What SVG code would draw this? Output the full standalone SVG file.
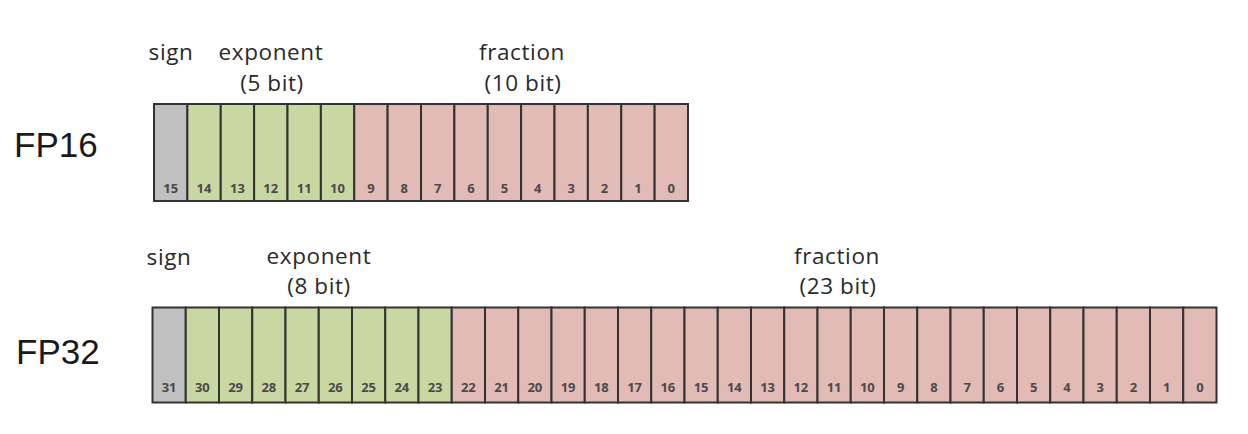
<svg xmlns="http://www.w3.org/2000/svg" width="1248" height="434" viewBox="0 0 1248 434">
<style>
.bg{fill:#ffffff}
.c{stroke:#333333;stroke-width:2}
.s{fill:#c0c0c0}
.e{fill:#c9d8a3}
.f{fill:#e2bab6}
.n{font-family:"Open Sans","Noto Sans",sans-serif;font-size:13px;font-weight:700;fill:#4a4a4a;text-anchor:middle}
.l{font-family:"Open Sans","Noto Sans",sans-serif;font-size:22.5px;fill:#2a2a2a;text-anchor:middle;letter-spacing:0.6px}
.t{font-family:"Liberation Sans",Arial,sans-serif;font-size:35px;fill:#1a1a1a}
</style>
<rect class="bg" x="0" y="0" width="1248" height="434"/>

<g id="fp16">
  <text class="t" x="14" y="157">FP16</text>
  <g id="fp16-labels">
    <text class="l" x="171" y="60">sign</text>
    <text class="l" x="271" y="60">exponent</text>
    <text class="l" x="272" y="91">(5 bit)</text>
    <text class="l" x="522" y="60">fraction</text>
    <text class="l" x="523" y="91">(10 bit)</text>
  </g>
  <g id="fp16-sign">
    <rect class="c s" x="154" y="104" width="33.375" height="97"/>
    <text class="n" x="170.69" y="193">15</text>
  </g>
  <g id="fp16-exponent">
    <rect class="c e" x="187.375" y="104" width="33.375" height="97"/>
    <rect class="c e" x="220.75" y="104" width="33.375" height="97"/>
    <rect class="c e" x="254.125" y="104" width="33.375" height="97"/>
    <rect class="c e" x="287.5" y="104" width="33.375" height="97"/>
    <rect class="c e" x="320.875" y="104" width="33.375" height="97"/>
    <text class="n" x="204.06" y="193">14</text>
    <text class="n" x="237.44" y="193">13</text>
    <text class="n" x="270.81" y="193">12</text>
    <text class="n" x="304.19" y="193">11</text>
    <text class="n" x="337.56" y="193">10</text>
  </g>
  <g id="fp16-fraction">
    <rect class="c f" x="354.25" y="104" width="33.375" height="97"/>
    <rect class="c f" x="387.625" y="104" width="33.375" height="97"/>
    <rect class="c f" x="421" y="104" width="33.375" height="97"/>
    <rect class="c f" x="454.375" y="104" width="33.375" height="97"/>
    <rect class="c f" x="487.75" y="104" width="33.375" height="97"/>
    <rect class="c f" x="521.125" y="104" width="33.375" height="97"/>
    <rect class="c f" x="554.5" y="104" width="33.375" height="97"/>
    <rect class="c f" x="587.875" y="104" width="33.375" height="97"/>
    <rect class="c f" x="621.25" y="104" width="33.375" height="97"/>
    <rect class="c f" x="654.625" y="104" width="33.375" height="97"/>
    <text class="n" x="370.94" y="193">9</text>
    <text class="n" x="404.31" y="193">8</text>
    <text class="n" x="437.69" y="193">7</text>
    <text class="n" x="471.06" y="193">6</text>
    <text class="n" x="504.44" y="193">5</text>
    <text class="n" x="537.81" y="193">4</text>
    <text class="n" x="571.19" y="193">3</text>
    <text class="n" x="604.56" y="193">2</text>
    <text class="n" x="637.94" y="193">1</text>
    <text class="n" x="671.31" y="193">0</text>
  </g>
</g>

<g id="fp32">
  <text class="t" x="16" y="364">FP32</text>
  <g id="fp32-labels">
    <text class="l" x="169" y="265">sign</text>
    <text class="l" x="319" y="264">exponent</text>
    <text class="l" x="319" y="294">(8 bit)</text>
    <text class="l" x="837" y="264">fraction</text>
    <text class="l" x="838" y="294">(23 bit)</text>
  </g>
  <g id="fp32-sign">
    <rect class="c s" x="152.5" y="307.5" width="33.25" height="95"/>
    <text class="n" x="169.13" y="392">31</text>
  </g>
  <g id="fp32-exponent">
    <rect class="c e" x="185.75" y="307.5" width="33.25" height="95"/>
    <rect class="c e" x="219" y="307.5" width="33.25" height="95"/>
    <rect class="c e" x="252.25" y="307.5" width="33.25" height="95"/>
    <rect class="c e" x="285.5" y="307.5" width="33.25" height="95"/>
    <rect class="c e" x="318.75" y="307.5" width="33.25" height="95"/>
    <rect class="c e" x="352" y="307.5" width="33.25" height="95"/>
    <rect class="c e" x="385.25" y="307.5" width="33.25" height="95"/>
    <rect class="c e" x="418.5" y="307.5" width="33.25" height="95"/>
    <text class="n" x="202.38" y="392">30</text>
    <text class="n" x="235.63" y="392">29</text>
    <text class="n" x="268.88" y="392">28</text>
    <text class="n" x="302.13" y="392">27</text>
    <text class="n" x="335.38" y="392">26</text>
    <text class="n" x="368.63" y="392">25</text>
    <text class="n" x="401.88" y="392">24</text>
    <text class="n" x="435.13" y="392">23</text>
  </g>
  <g id="fp32-fraction">
    <rect class="c f" x="451.75" y="307.5" width="33.25" height="95"/>
    <rect class="c f" x="485" y="307.5" width="33.25" height="95"/>
    <rect class="c f" x="518.25" y="307.5" width="33.25" height="95"/>
    <rect class="c f" x="551.5" y="307.5" width="33.25" height="95"/>
    <rect class="c f" x="584.75" y="307.5" width="33.25" height="95"/>
    <rect class="c f" x="618" y="307.5" width="33.25" height="95"/>
    <rect class="c f" x="651.25" y="307.5" width="33.25" height="95"/>
    <rect class="c f" x="684.5" y="307.5" width="33.25" height="95"/>
    <rect class="c f" x="717.75" y="307.5" width="33.25" height="95"/>
    <rect class="c f" x="751" y="307.5" width="33.25" height="95"/>
    <rect class="c f" x="784.25" y="307.5" width="33.25" height="95"/>
    <rect class="c f" x="817.5" y="307.5" width="33.25" height="95"/>
    <rect class="c f" x="850.75" y="307.5" width="33.25" height="95"/>
    <rect class="c f" x="884" y="307.5" width="33.25" height="95"/>
    <rect class="c f" x="917.25" y="307.5" width="33.25" height="95"/>
    <rect class="c f" x="950.5" y="307.5" width="33.25" height="95"/>
    <rect class="c f" x="983.75" y="307.5" width="33.25" height="95"/>
    <rect class="c f" x="1017" y="307.5" width="33.25" height="95"/>
    <rect class="c f" x="1050.25" y="307.5" width="33.25" height="95"/>
    <rect class="c f" x="1083.5" y="307.5" width="33.25" height="95"/>
    <rect class="c f" x="1116.75" y="307.5" width="33.25" height="95"/>
    <rect class="c f" x="1150" y="307.5" width="33.25" height="95"/>
    <rect class="c f" x="1183.25" y="307.5" width="33.25" height="95"/>
    <text class="n" x="468.38" y="392">22</text>
    <text class="n" x="501.63" y="392">21</text>
    <text class="n" x="534.88" y="392">20</text>
    <text class="n" x="568.13" y="392">19</text>
    <text class="n" x="601.38" y="392">18</text>
    <text class="n" x="634.63" y="392">17</text>
    <text class="n" x="667.88" y="392">16</text>
    <text class="n" x="701.13" y="392">15</text>
    <text class="n" x="734.38" y="392">14</text>
    <text class="n" x="767.63" y="392">13</text>
    <text class="n" x="800.88" y="392">12</text>
    <text class="n" x="834.13" y="392">11</text>
    <text class="n" x="867.38" y="392">10</text>
    <text class="n" x="900.63" y="392">9</text>
    <text class="n" x="933.88" y="392">8</text>
    <text class="n" x="967.13" y="392">7</text>
    <text class="n" x="1000.38" y="392">6</text>
    <text class="n" x="1033.63" y="392">5</text>
    <text class="n" x="1066.88" y="392">4</text>
    <text class="n" x="1100.13" y="392">3</text>
    <text class="n" x="1133.38" y="392">2</text>
    <text class="n" x="1166.63" y="392">1</text>
    <text class="n" x="1199.88" y="392">0</text>
  </g>
</g>
</svg>
